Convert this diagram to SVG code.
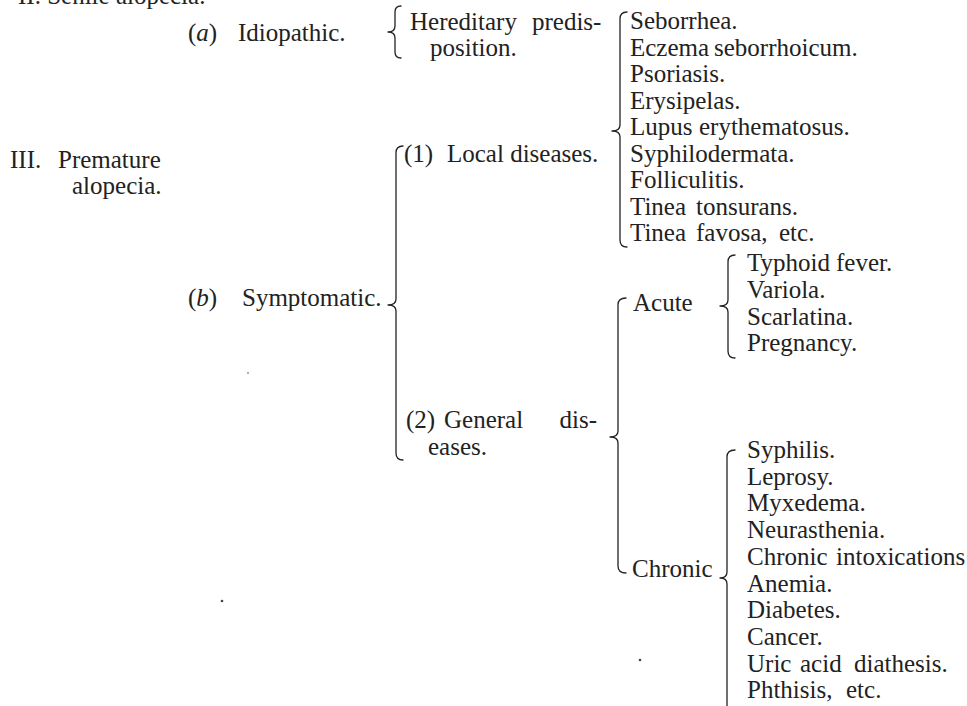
<svg xmlns="http://www.w3.org/2000/svg" width="967" height="706" viewBox="0 0 967 706">
<style>
text { font-family: "Liberation Serif", "Times New Roman", serif; font-size: 25px; fill: #222222; }
.it { font-style: italic; }
.brace { fill: none; stroke: #222222; stroke-width: 1.3; stroke-linecap: round; stroke-linejoin: round; }
.speck { fill: #444444; }
</style>
<rect width="967" height="706" fill="#ffffff"/>

<g id="connectors">
  <path class="brace" d="M401,6 Q395,6 395,12 L395,26 Q395,32 388,32 Q395,32 395,38 L395,52 Q395,58 401,58"/>
  <path class="brace" d="M627,12 Q620,12 620,19 L620,125 Q620,131 612,131 Q620,131 620,137 L620,240 Q620,247 627,247"/>
  <path class="brace" d="M403,146 Q396,146 396,153 L396,299 Q396,305 388,305 Q396,305 396,311 L396,453 Q396,460 403,460"/>
  <path class="brace" d="M626,298 Q618,298 618,305 L618,431 Q618,437 610,437 Q618,437 618,443 L618,566 Q618,573 626,573"/>
  <path class="brace" d="M735,255 Q728,255 728,262 L728,300 Q728,306 720,306 Q728,306 728,312 L728,351 Q728,358 735,358"/>
  <path class="brace" d="M735,450 Q727,450 727,457 L727,572 Q727,578 720,578 Q727,578 727,584 L727,712"/>
</g>

<g id="senile">
  <text x="18" y="4">II. Senile alopecia.</text>
</g>
<g id="premature">
  <text x="10" y="168">III.<tspan x="58">Premature</tspan></text>
  <text x="72" y="194">alopecia.</text>
</g>
<g id="idiopathic">
  <text x="188" y="41">(<tspan class="it">a</tspan>)<tspan x="238">Idiopathic.</tspan></text>
</g>
<g id="hereditary">
  <text x="410" y="30">Hereditary<tspan x="532">predis-</tspan></text>
  <text x="430" y="56">position.</text>
</g>
<g id="local-list">
  <text x="630" y="29">Seborrhea.</text>
  <text x="630" y="55.5">Eczema<tspan x="714">seborrhoicum.</tspan></text>
  <text x="630" y="82">Psoriasis.</text>
  <text x="630" y="108.5">Erysipelas.</text>
  <text x="630" y="135">Lupus<tspan x="699">erythematosus.</tspan></text>
  <text x="630" y="161.5">Syphilodermata.</text>
  <text x="630" y="188">Folliculitis.</text>
  <text x="630" y="214.5">Tinea<tspan x="696">tonsurans.</tspan></text>
  <text x="630" y="241">Tinea<tspan x="696">favosa,</tspan><tspan x="779">etc.</tspan></text>
</g>
<g id="symptomatic">
  <text x="188" y="306">(<tspan class="it">b</tspan>)<tspan x="242">Symptomatic.</tspan></text>
</g>
<g id="local">
  <text x="404" y="162">(1)<tspan x="447">Local diseases.</tspan></text>
</g>
<g id="general">
  <text x="406" y="428">(2)<tspan x="444">General</tspan></text>
  <text x="597" y="428" text-anchor="end">dis-</text>
  <text x="428" y="455">eases.</text>
</g>
<g id="acute">
  <text x="633" y="311">Acute</text>
</g>
<g id="acute-list">
  <text x="747" y="271">Typhoid<tspan x="836">fever.</tspan></text>
  <text x="747" y="298">Variola.</text>
  <text x="747" y="325">Scarlatina.</text>
  <text x="747" y="351">Pregnancy.</text>
</g>
<g id="chronic">
  <text x="632" y="577">Chronic</text>
</g>
<g id="chronic-list">
  <text x="747" y="458">Syphilis.</text>
  <text x="747" y="485">Leprosy.</text>
  <text x="747" y="511">Myxedema.</text>
  <text x="747" y="538">Neurasthenia.</text>
  <text x="747" y="565">Chronic<tspan x="836">intoxications</tspan></text>
  <text x="747" y="592">Anemia.</text>
  <text x="747" y="618">Diabetes.</text>
  <text x="747" y="645">Cancer.</text>
  <text x="747" y="672">Uric<tspan x="800">acid</tspan><tspan x="854">diathesis.</tspan></text>
  <text x="747" y="698">Phthisis,<tspan x="846">etc.</tspan></text>
</g>

<g id="specks">
  <circle class="speck" cx="222" cy="601" r="1.3"/>
  <circle class="speck" cx="640" cy="660" r="1.3"/>
  <circle class="speck" cx="248" cy="373" r="0.8"/>
</g>
</svg>
